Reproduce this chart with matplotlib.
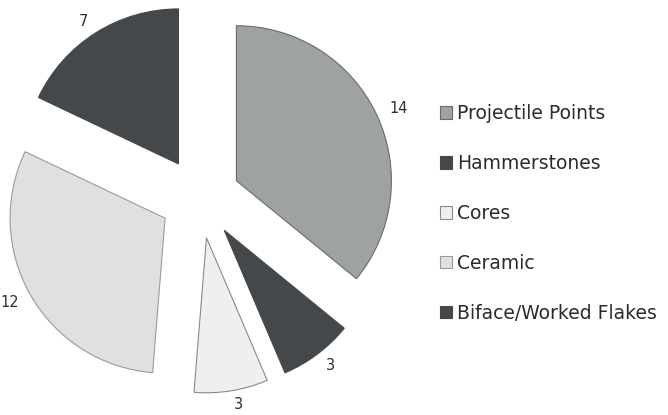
import matplotlib.pyplot as plt
from matplotlib.patches import Patch

# artifact counts per category
categories = ['Projectile Points', 'Hammerstones', 'Cores', 'Ceramic', 'Biface/Worked Flakes']
counts = [14, 3, 3, 12, 7]
colors = ['#9fa2a3', '#45484b', '#efefef', '#e0e0e0', '#45484b']
edges = ['#6a6a6a', '#45484b', '#8a8a8a', '#9a9a9a', '#45484b']

plt.rcParams['font.family'] = ['DejaVu Sans']

fig = plt.figure(figsize=(6.68, 4.15), dpi=100)
W, H = 668, 415

# pie centred at (200, 198) px, radius 155 px
cx, cy, r = 200, 198, 155
half = 1.25 * r
ax = fig.add_axes([(cx - half) / W, (H - cy - half) / H, 2 * half / W, 2 * half / H])

wedges, texts = ax.pie(counts, labels=[str(c) for c in counts], colors=colors,
                       startangle=90, counterclock=False,
                       explode=[0.26] * len(counts), labeldistance=1.09,
                       wedgeprops=dict(linewidth=0.8),
                       textprops=dict(fontsize=10.5, color='#2e2e2e'))
for w, ec in zip(wedges, edges):
    w.set_edgecolor(ec)
ax.set_xlim(-1.25, 1.25)
ax.set_ylim(-1.25, 1.25)

handles = [Patch(facecolor=c, edgecolor=e, linewidth=0.8) for c, e in zip(colors, edges)]
leg = fig.legend(handles, categories, loc='upper left',
                 bbox_to_anchor=(440 / W, 1 - 104 / H), frameon=False,
                 handlelength=0.65, handleheight=0.65,
                 handletextpad=0.25, labelspacing=1.65, borderpad=0, borderaxespad=0,
                 labelcolor='#2b2b2b', prop=dict(size=13.5))

fig.savefig('out.png', dpi=100)
